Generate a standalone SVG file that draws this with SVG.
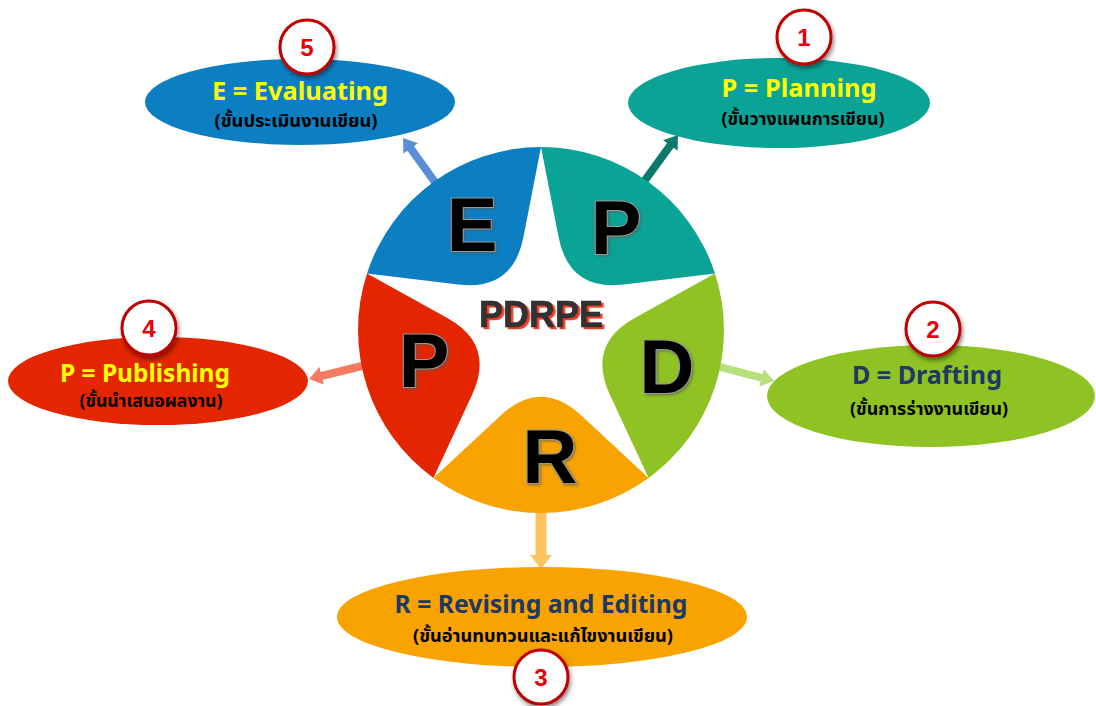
<svg xmlns="http://www.w3.org/2000/svg" width="1096" height="706" viewBox="0 0 1096 706">
  <style>
    .title { font-family: "Noto Sans", "Open Sans", "Liberation Sans", sans-serif; font-weight: 700; font-size: 25px; text-anchor: middle; }
    .thai { font-family: "Noto Sans Thai", "Noto Sans", "Liberation Sans", sans-serif; font-weight: 700; font-size: 18px; text-anchor: middle; fill: #000; }
    .yel { fill: #ffff00; }
    .navy { fill: #1f3864; }
    .num-c { fill: #fff; stroke: #c00000; stroke-width: 3; filter: url(#sh); }
    .num { font-family: "Liberation Sans", Arial, sans-serif; font-weight: 700; font-size: 24px; fill: #e8000b; text-anchor: middle; }
    .big { font-family: "Liberation Sans", Arial, sans-serif; font-weight: 700; font-size: 76px; fill: #000; stroke: #9a9a9a; stroke-width: 2; paint-order: stroke; text-anchor: middle; filter: url(#sh2); }
    .hub-t { font-family: "Liberation Sans", Arial, sans-serif; font-weight: 700; font-size: 36px; text-anchor: middle; fill: #333; stroke: #222; stroke-width: 0.6; filter: url(#redsh); }
  </style>
  <defs>
    <filter id="sh" x="-30%" y="-30%" width="160%" height="160%">
      <feDropShadow dx="1.5" dy="3" stdDeviation="2" flood-color="#000" flood-opacity="0.45"/>
    </filter>
    <filter id="sh2" x="-20%" y="-20%" width="140%" height="140%">
      <feDropShadow dx="1.5" dy="1.5" stdDeviation="0.8" flood-color="#555" flood-opacity="0.6"/>
    </filter>
    <filter id="redsh" x="-10%" y="-20%" width="120%" height="150%">
      <feDropShadow dx="2.5" dy="2" stdDeviation="0" flood-color="#e8412c" flood-opacity="1"/>
    </filter>
    <marker id="mBlue" markerUnits="userSpaceOnUse" viewBox="0 0 13 18" markerWidth="13" markerHeight="18" refX="1" refY="9" orient="auto"><path d="M0,0 L13,9 L0,18 Z" fill="#5b8ed8"/></marker>
    <marker id="mTeal" markerUnits="userSpaceOnUse" viewBox="0 0 13 18" markerWidth="13" markerHeight="18" refX="1" refY="9" orient="auto"><path d="M0,0 L13,9 L0,18 Z" fill="#0b7a6c"/></marker>
    <marker id="mGreen" markerUnits="userSpaceOnUse" viewBox="0 0 13 18" markerWidth="13" markerHeight="18" refX="1" refY="9" orient="auto"><path d="M0,0 L13,9 L0,18 Z" fill="#b8e07a"/></marker>
    <marker id="mRed" markerUnits="userSpaceOnUse" viewBox="0 0 13 18" markerWidth="13" markerHeight="18" refX="1" refY="9" orient="auto"><path d="M0,0 L13,9 L0,18 Z" fill="#f47a62"/></marker>
    <marker id="mOrange" markerUnits="userSpaceOnUse" viewBox="0 0 14 22" markerWidth="14" markerHeight="22" refX="1" refY="11" orient="auto"><path d="M0,0 L14,11 L0,22 Z" fill="#fcc45e"/></marker>
  </defs>

  <g id="connectors">
    <line x1="437" y1="185" x2="410.1" y2="147.7" stroke="#5b8ed8" stroke-width="8" marker-end="url(#mBlue)"/>
    <line x1="643" y1="183" x2="670.9" y2="144.7" stroke="#0b7a6c" stroke-width="8" marker-end="url(#mTeal)"/>
    <line x1="716" y1="366" x2="762.4" y2="378" stroke="#b8e07a" stroke-width="8" marker-end="url(#mGreen)"/>
    <line x1="366" y1="365" x2="320.7" y2="376.1" stroke="#f47a62" stroke-width="8" marker-end="url(#mRed)"/>
    <line x1="541" y1="508" x2="541" y2="556" stroke="#fcc45e" stroke-width="11" marker-end="url(#mOrange)"/>
  </g>

  <g id="hub">
    <path d="M541,330 L541,147 A183,183 0 0 1 715,273.4 Z" fill="#0aa396"/>
    <path d="M541,330 L715,273.4 A183,183 0 0 1 648.6,478 Z" fill="#8fc223"/>
    <path d="M541,330 L648.6,478 A183,183 0 0 1 433.4,478 Z" fill="#f8a300"/>
    <path d="M541,330 L433.4,478 A183,183 0 0 1 367,273.4 Z" fill="#e42600"/>
    <path d="M541,330 L367,273.4 A183,183 0 0 1 541,147 Z" fill="#0b7fc2"/>
    <path d="M541,147 L558.6,237.2 Q569.2,291.2 623.8,284.5 L715,273.4 L634.7,318.1 Q586.7,344.8 609.9,394.7 L648.6,478 L581.3,415.4 Q541,378 500.7,415.4 L433.4,478 L472.1,394.7 Q495.3,344.8 447.3,318.1 L367,273.4 L458.2,284.5 Q512.8,291.2 523.4,237.2 Z" fill="#fff"/>
    <text class="big" x="472" y="251">E</text>
    <text class="big" x="616" y="254">P</text>
    <text class="big" x="667" y="393">D</text>
    <text class="big" x="550" y="483">R</text>
    <text class="big" x="424" y="387">P</text>
    <text class="hub-t" x="541" y="327">PDRPE</text>
  </g>

  <g id="node-planning">
    <ellipse cx="779" cy="103" rx="151" ry="45" fill="#0aa396"/>
    <text class="title yel" x="799" y="97" textLength="155" lengthAdjust="spacingAndGlyphs">P = Planning</text>
    <text class="thai" x="803" y="125" textLength="163" lengthAdjust="spacingAndGlyphs">(ขั้นวางแผนการเขียน)</text>
    <circle class="num-c" cx="804" cy="37" r="27"/>
    <text class="num" x="804" y="46">1</text>
  </g>

  <g id="node-drafting">
    <ellipse cx="931" cy="396" rx="164" ry="51" fill="#8fc223"/>
    <text class="title navy" x="927" y="384" textLength="150" lengthAdjust="spacingAndGlyphs">D = Drafting</text>
    <text class="thai" x="929" y="415" textLength="158" lengthAdjust="spacingAndGlyphs">(ขั้นการร่างงานเขียน)</text>
    <circle class="num-c" cx="933" cy="329" r="27"/>
    <text class="num" x="933" y="338">2</text>
  </g>

  <g id="node-revising">
    <ellipse cx="542" cy="617" rx="205" ry="50" fill="#f8a300"/>
    <text class="title navy" x="541" y="613" textLength="293" lengthAdjust="spacingAndGlyphs">R = Revising and Editing</text>
    <text class="thai" x="543" y="642" textLength="260" lengthAdjust="spacingAndGlyphs">(ขั้นอ่านทบทวนและแก้ไขงานเขียน)</text>
    <circle class="num-c" cx="541" cy="677" r="27"/>
    <text class="num" x="541" y="686">3</text>
  </g>

  <g id="node-publishing">
    <ellipse cx="158" cy="381" rx="150" ry="44" fill="#e42600"/>
    <text class="title yel" x="145" y="382" textLength="170" lengthAdjust="spacingAndGlyphs">P = Publishing</text>
    <text class="thai" x="151" y="407" textLength="143" lengthAdjust="spacingAndGlyphs">(ขั้นนำเสนอผลงาน)</text>
    <circle class="num-c" cx="149" cy="328" r="27"/>
    <text class="num" x="149" y="337">4</text>
  </g>

  <g id="node-evaluating">
    <ellipse cx="300" cy="102" rx="155" ry="43" fill="#0b7fc2"/>
    <text class="title yel" x="300" y="100" textLength="176" lengthAdjust="spacingAndGlyphs">E = Evaluating</text>
    <text class="thai" x="296" y="127" textLength="163" lengthAdjust="spacingAndGlyphs">(ขั้นประเมินงานเขียน)</text>
    <circle class="num-c" cx="307" cy="47" r="27"/>
    <text class="num" x="307" y="56">5</text>
  </g>
</svg>
